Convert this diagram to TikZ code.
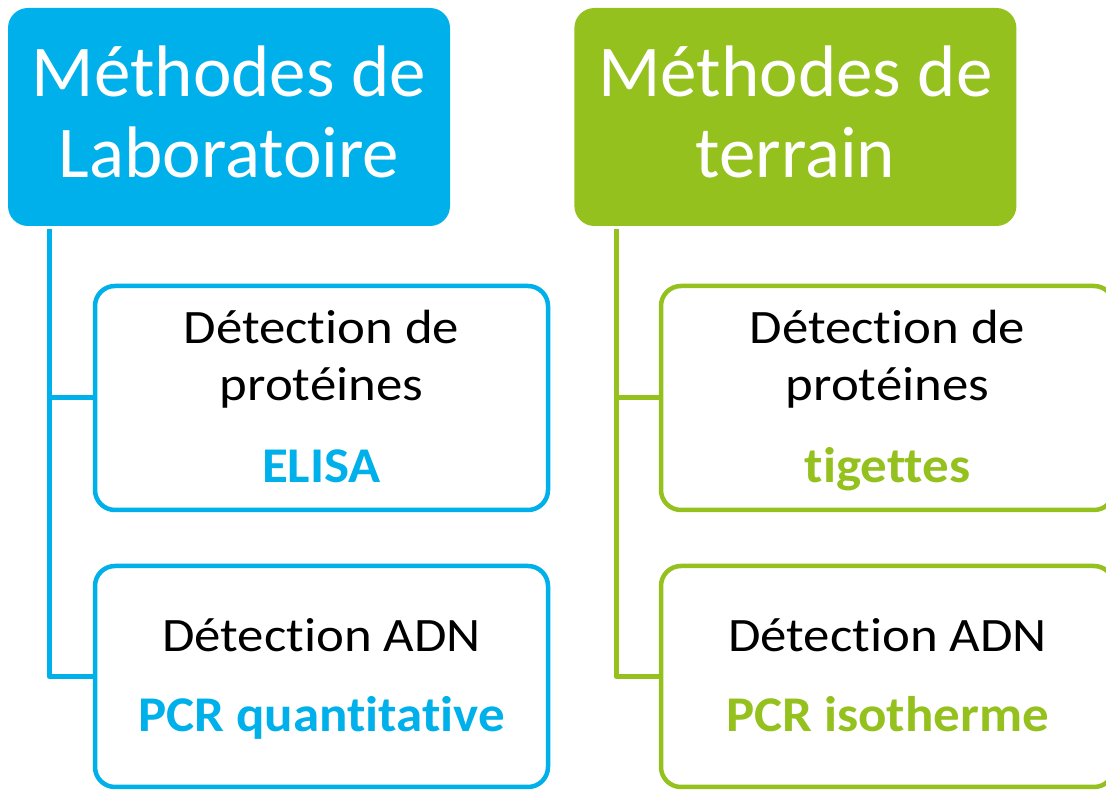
\documentclass[tikz,border=0pt]{standalone}
\usepackage{fontspec}
\setmainfont[Ligatures=NoCommon]{Carlito}
\newfontfamily\methfont[FakeStretch=1.1,Ligatures=NoCommon]{Carlito}
\newfontfamily\methbold[FakeStretch=1.06,Ligatures=NoCommon]{Carlito}
\usetikzlibrary{positioning}
\definecolor{labblue}{RGB}{0,176,234}
\definecolor{tergreen}{RGB}{149,193,31}
\newcommand{\outil}[2]{{\methbold\bfseries\fontsize{50}{57}\selectfont\color{#1}#2}}

\begin{document}
\begin{tikzpicture}[x=1pt,y=1pt,
	head/.style={rounded corners=20pt, minimum width=442pt, minimum height=218pt, inner sep=0pt, align=center, text=white, text depth=10pt, font=\fontsize{73}{81}\selectfont},
	methode/.style={draw, line width=4.5pt, rounded corners=20pt, minimum width=453pt, inner sep=0pt, align=center, text depth=4pt, font=\methfont\fontsize{48}{57}\selectfont},
	lien/.style={line width=5pt, line join=round}]
			\useasboundingbox (0,0) rectangle (1106,790);
			% en-tetes
			\node[head, fill=labblue] (labhead) at (229,673) {M\'ethodes de\\Laboratoire};
			\node[head, fill=tergreen, right=124pt of labhead] (terhead) {M\'ethodes de\\terrain};
			% methodes de laboratoire
			\node[methode, draw=labblue, minimum height=224pt] (lab1) at (321.5,392) {D\'etection de\\prot\'eines\\[25pt]\outil{labblue}{ELISA}};
			\node[methode, draw=labblue, minimum height=221pt] (lab2) at (321.5,113.5) {D\'etection ADN\\[23pt]\outil{labblue}{PCR quantitative}};
			% methodes de terrain
			\node[methode, draw=tergreen, minimum height=224pt] (ter1) at (887.5,392) {D\'etection de\\prot\'eines\\[25pt]\outil{tergreen}{tigettes}};
			\node[methode, draw=tergreen, minimum height=221pt] (ter2) at (887.5,113.5) {D\'etection ADN\\[23pt]\outil{tergreen}{PCR isotherme}};
			% traits
			\coordinate (labtrait) at ([xshift=41.5pt,yshift=-2.5pt]labhead.south west);
			\coordinate (tertrait) at ([xshift=42pt,yshift=-2.5pt]terhead.south west);
			\draw[lien, labblue] (labtrait) |- (lab1.west);
			\draw[lien, labblue] (labtrait) |- (lab2.west);
			\draw[lien, tergreen] (tertrait) |- (ter1.west);
			\draw[lien, tergreen] (tertrait) |- (ter2.west);
		\end{tikzpicture}
\end{document}
